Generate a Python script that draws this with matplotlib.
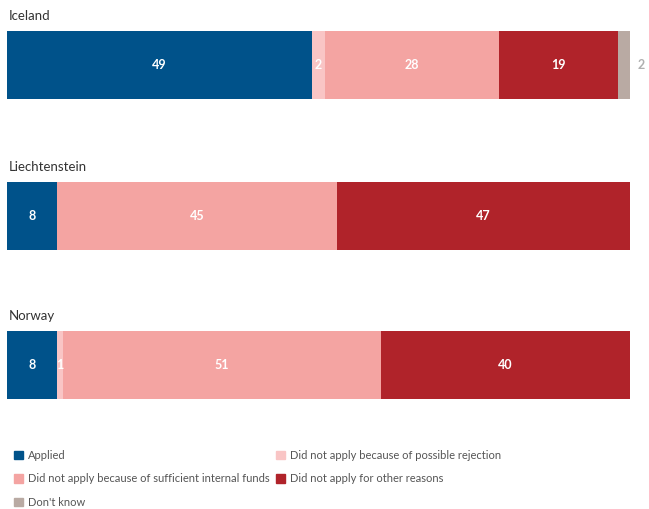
import numpy as np
import matplotlib.pyplot as plt
from matplotlib.patches import Patch

countries = ["Iceland", "Liechtenstein", "Norway"]
categories = ["Applied",
              "Did not apply because of possible rejection",
              "Did not apply because of sufficient internal funds",
              "Did not apply for other reasons",
              "Don't know"]
applied = [49, 8, 8]
rejection = [2, 0, 1]
internal_funds = [28, 45, 51]
other_reasons = [19, 47, 40]
dont_know = [2, 0, 0]

colors = ["#00528a", "#f9c5c5", "#f4a4a2", "#b0232a", "#b9aaa3"]
series = [applied, rejection, internal_funds, other_reasons, dont_know]

plt.rcParams['font.family'] = ['Lato', 'DejaVu Sans']

fig = plt.figure(figsize=(6.49, 5.09), dpi=100)
W, H = 649, 509

bar_tops = [31, 182, 331]   # pixel rows of each bar top
bar_h = 68

for i, country in enumerate(countries):
    top = bar_tops[i]
    ax = fig.add_axes([7 / W, (H - top - bar_h) / H, 623 / W, bar_h / H])
    ax.set_xlim(0, 100)
    ax.set_ylim(0, 1)
    ax.axis("off")
    left = 0
    for j, s in enumerate(series):
        v = s[i]
        if v > 0:
            ax.barh(0.5, v, left=left, height=1, color=colors[j], linewidth=0)
            if j == 4:
                ax.text(left + v + 1.2, 0.5, str(v), ha="left", va="center",
                        color="#b0b0b0", fontsize=9, fontweight="bold")
            else:
                ax.text(left + v / 2, 0.5, str(v), ha="center", va="center",
                        color="white", fontsize=9, fontweight="bold")
        left += v
    ax.text(0.003, 1 + 15 / bar_h, country, transform=ax.transAxes,
            ha="left", va="center", fontsize=9.5, color="#333333")

handles = [Patch(color=c, label=l) for c, l in zip(colors, categories)]
order = [0, 2, 4, 1, 3]
leg = fig.legend([handles[k] for k in order], [categories[k] for k in order],
                 ncol=2, loc="upper left", bbox_to_anchor=(14 / W, 1 - 450 / H),
                 frameon=False, fontsize=8.0, handlelength=0.78, handleheight=0.78,
                 handletextpad=0.45, columnspacing=0.6, labelspacing=1.12,
                 borderpad=0, borderaxespad=0)
for t in leg.get_texts():
    t.set_color("#555555")

fig.savefig("out.png", dpi=100)
